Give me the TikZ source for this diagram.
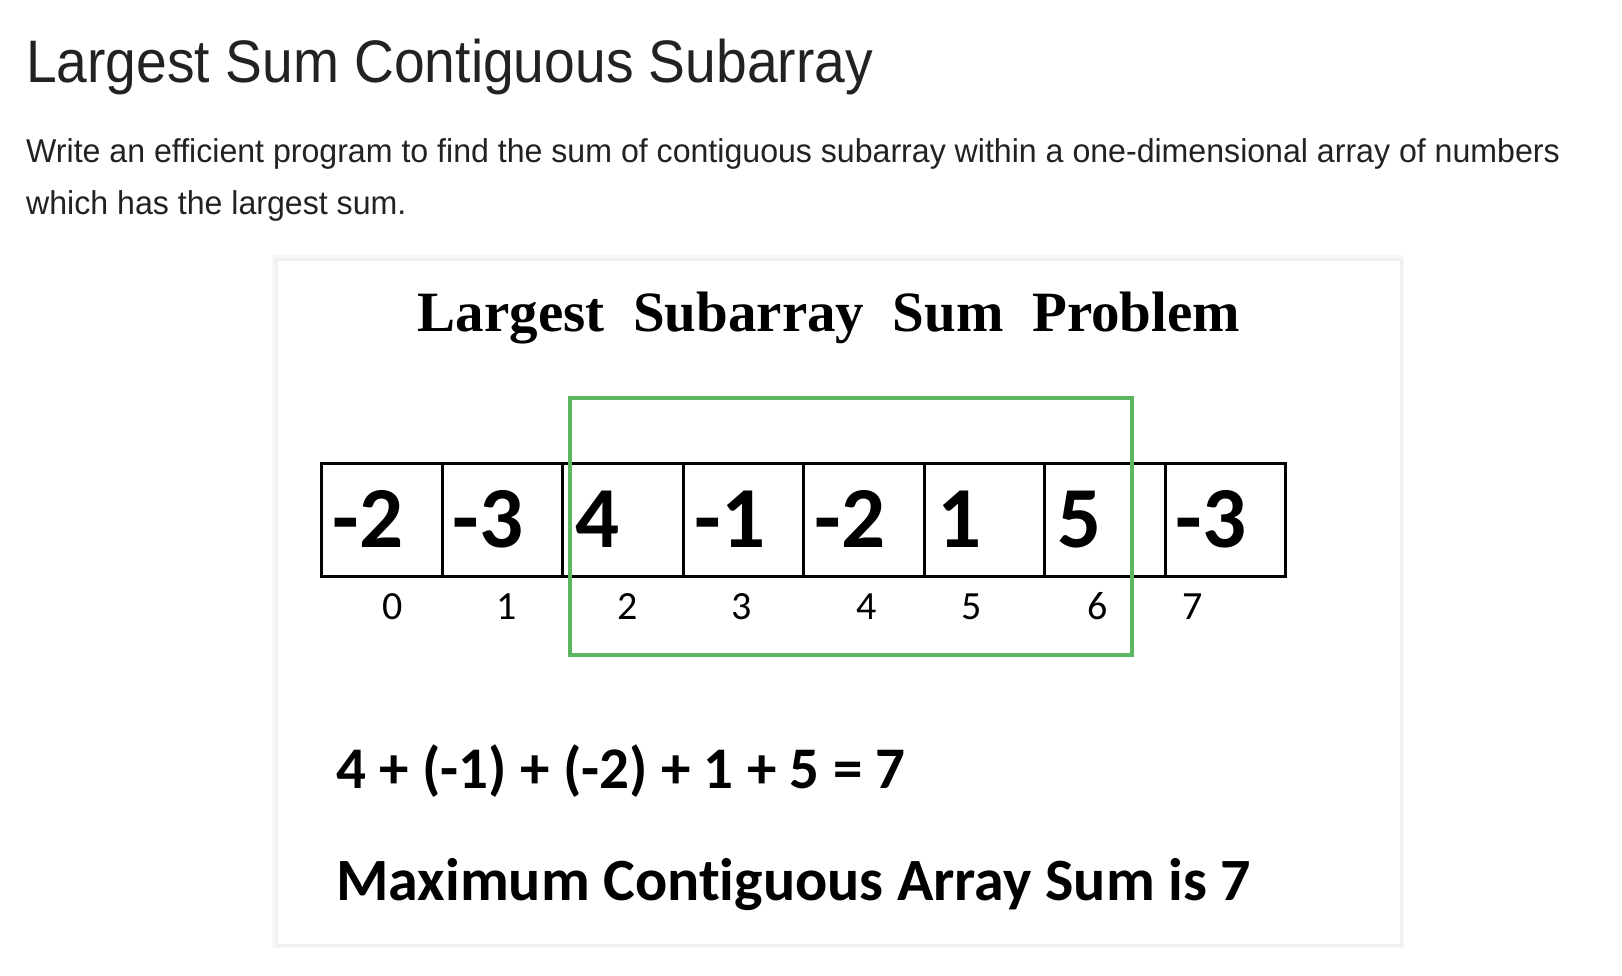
\documentclass[tikz,border=0pt]{standalone}
\usepackage{fontspec}
\setmainfont{Liberation Sans}
\newfontfamily\hdfont[FakeStretch=0.92]{Liberation Sans}
\newfontfamily\parfont[FakeStretch=0.973]{Liberation Sans}
\newfontfamily\calfnt[Ligatures=NoCommon]{Carlito}
\newfontfamily\ttlfont{Liberation Serif}
\definecolor{hdtext}{HTML}{222222}
\definecolor{selgreen}{HTML}{5DB760}
\begin{document}
\begin{tikzpicture}[x=1pt,y=-1pt,
  txt/.style={inner sep=0pt, anchor=base west},
  cell/.style={draw=black, line width=3pt, minimum width=120.5pt, minimum height=113pt, inner sep=0pt, anchor=north west},
  val/.style={inner sep=0pt, anchor=base, font=\calfnt\bfseries\fontsize{87}{87}\selectfont},
  idx/.style={inner sep=0pt, anchor=base, font=\calfnt\fontsize{40}{40}\selectfont},
  card/.style={draw=black!6, line width=3pt, fill=white}]
\useasboundingbox (0,0) rectangle (1622,976);
\fill[white] (0,0) rectangle (1622,976);
% header text
\node[txt, text=hdtext, font=\hdfont\fontsize{60}{60}\selectfont] (head) at (26,83) {Largest Sum Contiguous Subarray};
\node[txt, text=hdtext, font=\parfont\fontsize{33}{33}\selectfont] (para1) at (26,163) {Write an efficient program to find the sum of contiguous subarray within a one-dimensional array of numbers};
\node[txt, text=hdtext, font=\parfont\fontsize{33}{33}\selectfont] (para2) at (26,215) {which has the largest sum.};
% card
\fill[black!3] (272,255) rectangle (1404,948);
\node[card, minimum width=1125pt, minimum height=686pt, anchor=north west, inner sep=0pt] (cardbox) at (275,258) {};
% title
\node[inner sep=0pt, anchor=base, font=\ttlfont\bfseries\fontsize{57}{57}\selectfont] (title) at (829,331) {Largest\ \ Subarray\ \ Sum\ \ Problem};
% cells
\foreach \i/\v/\vx/\ix in {0/-2/368/393, 1/-3/488/507, 2/4/598/628, 3/-1/730/742, 4/-2/850/867, 5/1/960/972, 6/5/1080/1098, 7/-3/1211/1193}{
  \node[cell] (c\i) at ({320+120.5*\i},462) {};
  \node[val] (v\i) at (\vx,547) {\v};
  \node[idx] (i\i) at (\ix,619) {\i};
}
% highlight box
\node[draw=selgreen, line width=4pt, minimum width=562pt, minimum height=257pt, inner sep=0pt, anchor=north west] (sel) at (568,396) {};
% equation lines
\node[txt, font=\calfnt\bfseries\fontsize{59}{59}\selectfont] (eq) at (336,788) {4 + (-1) + (-2) + 1 + 5 = 7};
\node[txt, font=\calfnt\bfseries\fontsize{60}{60}\selectfont] (res) at (336,900) {Maximum Contiguous Array Sum is 7};
\end{tikzpicture}
\end{document}
